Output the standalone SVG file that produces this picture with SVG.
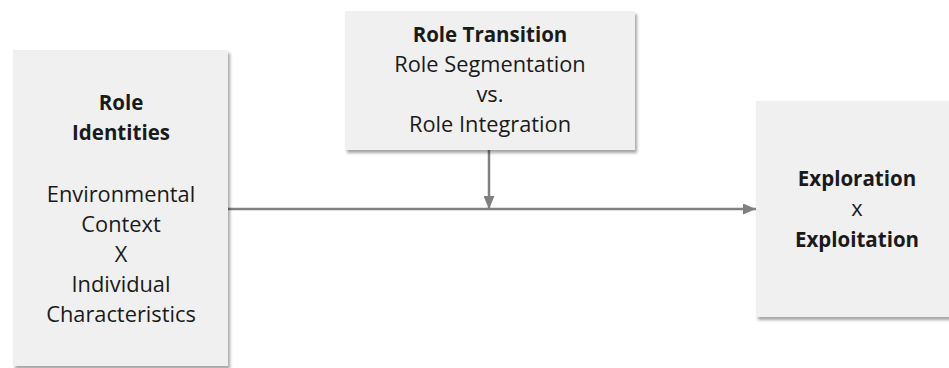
<svg xmlns="http://www.w3.org/2000/svg" width="949" height="368" viewBox="0 0 949 368">
  <style>
    .box { fill: #f0f0f0; filter: url(#shadow); }
    text { font-family: "Open Sans", "Noto Sans", "Liberation Sans", sans-serif; font-size: 21.8px; fill: #1a1a1a; text-anchor: middle; }
    .b { font-weight: bold; font-size: 20.5px; }
    .conn { stroke: #808080; stroke-width: 2.5; fill: none; }
  </style>
  <defs>
    <filter id="shadow" x="-10%" y="-10%" width="130%" height="130%">
      <feDropShadow dx="2" dy="3" stdDeviation="1.8" flood-color="#000" flood-opacity="0.35"/>
    </filter>
    <marker id="arrow" viewBox="0 0 13 11" refX="13" refY="5.5" markerWidth="13" markerHeight="11" markerUnits="userSpaceOnUse" orient="auto">
      <path d="M0,0 L13,5.5 L0,11 Z" fill="#808080"/>
    </marker>
  </defs>

  <!-- connectors -->
  <g id="connectors">
    <line class="conn" x1="228" y1="209" x2="756" y2="209" marker-end="url(#arrow)"/>
    <line class="conn" x1="489" y1="150" x2="489" y2="209" marker-end="url(#arrow)"/>
  </g>

  <!-- left node -->
  <g id="role-identities">
    <rect class="box" x="13" y="50" width="215" height="316"/>
    <text x="121" y="110" class="b">Role</text>
    <text x="121" y="140" class="b">Identities</text>
    <text x="121" y="202">Environmental</text>
    <text x="121" y="232">Context</text>
    <text x="121" y="262">X</text>
    <text x="121" y="292">Individual</text>
    <text x="121" y="322">Characteristics</text>
  </g>

  <!-- top node -->
  <g id="role-transition">
    <rect class="box" x="345" y="11" width="290" height="139"/>
    <text x="490" y="42" class="b">Role Transition</text>
    <text x="490" y="72">Role Segmentation</text>
    <text x="490" y="102">vs.</text>
    <text x="490" y="132">Role Integration</text>
  </g>

  <!-- right node -->
  <g id="exploration-exploitation">
    <rect class="box" x="756" y="101" width="205" height="216"/>
    <text x="857" y="186" class="b">Exploration</text>
    <text x="857" y="216">x</text>
    <text x="857" y="247" class="b">Exploitation</text>
  </g>
</svg>
